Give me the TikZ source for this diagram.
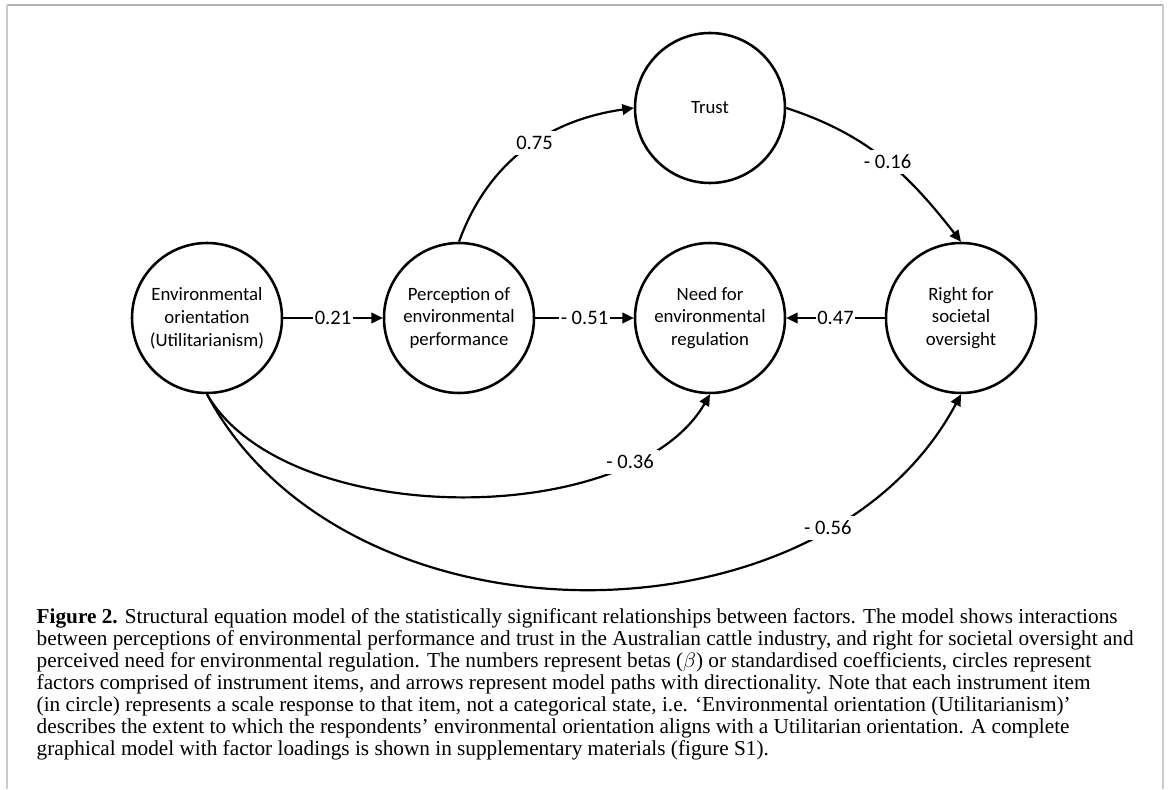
\documentclass[tikz,border=0pt]{standalone}
\usepackage{fontspec}
\setmainfont{Liberation Serif}
\newfontfamily\calibri{Carlito}
\usetikzlibrary{arrows.meta}

\begin{document}
\begin{tikzpicture}[thick,
    factor/.style={circle, draw, line width=1.45pt, minimum size=3cm, inner sep=0pt, align=center,
        font=\calibri\fontsize{10.7}{13}\selectfont},
    path/.style={line width=1.25pt, -{Triangle[length=6.5pt,width=6pt]}},
    beta/.style={fill=white, inner sep=1pt, font=\calibri\fontsize{11.7}{14}\selectfont}]
    \useasboundingbox (0,0) rectangle (23.4,15.78);

    % Page frame
    \coordinate (FrameL) at (0.14,0);
    \coordinate (FrameTL) at (0.14,15.68);
    \coordinate (FrameTR) at (23.26,15.68);
    \coordinate (FrameR) at (23.26,0);
    \draw[line width=1.2pt, gray!60] (FrameTL) -- (FrameTR);
    \draw[line width=1.2pt, gray!40] (FrameL) -- (FrameTL);
    \draw[line width=1.2pt, gray!40] (FrameTR) -- (FrameR);

    % Factors
    \node[factor] (EnvOrient) at (4.14,9.42) {Environmental\\orientation\\(Utilitarianism)};
    \node[factor] (PerfPerc) at (9.18,9.42) {Perception of\\environmental\\performance};
    \node[factor] (NeedReg) at (14.2,9.42) {Need for\\environmental\\regulation};
    \node[factor] (RightOver) at (19.22,9.42) {Right for\\societal\\oversight};
    \node[factor] (Trust) at (14.2,13.62) {Trust};

    % Straight paths
    \draw[path] (EnvOrient) -- node[beta]{0.21} (PerfPerc);
    \draw[path] (PerfPerc) -- node[beta]{- 0.51} (NeedReg);
    \draw[path] (RightOver) -- node[beta]{0.47} (NeedReg);

    % Curved paths
    \draw[path] (PerfPerc.north) to[out=70, in=188] node[beta, inner sep=3pt, pos=0.55]{0.75} (Trust.west);
    \draw[path] (Trust.east) to[out=-18, in=128] node[beta, inner sep=3pt, pos=0.52]{- 0.16} (RightOver.north);
    \draw[path] (EnvOrient.south) to[out=-60, in=-120, looseness=0.8] node[beta, inner sep=3pt, pos=0.79]{- 0.36} (NeedReg.south);
    \draw[path] (EnvOrient.south) to[out=-62, in=-118] node[beta, inner sep=3pt, pos=0.78]{- 0.56} (RightOver.south);

    % Caption (base = last line)
    \node[anchor=base west, align=left, inner sep=0pt, font=\fontsize{12.1}{12.53}\selectfont] (Caption) at (0.72,0.67)
        {\textbf{Figure 2.} Structural equation model of the statistically significant relationships between factors. The model shows interactions\\
        between perceptions of environmental performance and trust in the Australian cattle industry, and right for societal oversight and\\
        perceived need for environmental regulation. The numbers represent betas ($\beta$) or standardised coefficients, circles represent\\
        factors comprised of instrument items, and arrows represent model paths with directionality. Note that each instrument item\\
        (in circle) represents a scale response to that item, not a categorical state, i.e. ‘Environmental orientation (Utilitarianism)’\\
        describes the extent to which the respondents’ environmental orientation aligns with a Utilitarian orientation. A complete\\
        graphical model with factor loadings is shown in supplementary materials (figure S1).};
\end{tikzpicture}
\end{document}
